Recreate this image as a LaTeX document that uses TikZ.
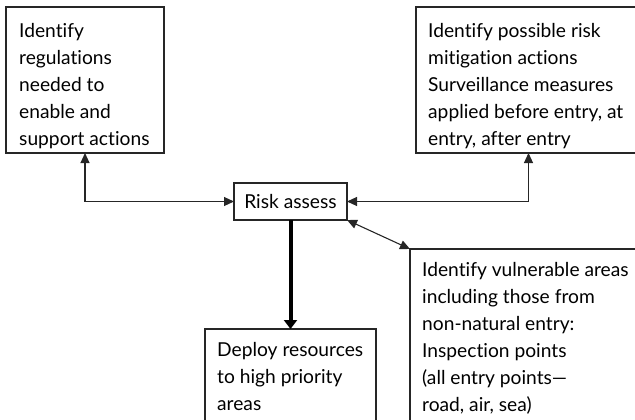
\documentclass[tikz,border=0pt]{standalone}
\usepackage{fontspec}
\setmainfont[Ligatures=CommonOff]{Lato}
\usetikzlibrary{arrows.meta}
\begin{document}
\begin{tikzpicture}[x=1pt,y=-1pt,
  box/.style={draw=black!85,line width=1.1pt,anchor=north west,inner sep=0pt,outer sep=0pt},
  txt/.style={anchor=base west,align=left,inner sep=0pt,font=\fontsize{19.2}{27}\selectfont},
  link/.style={draw=black!85,line width=1.1pt,{Triangle[length=10pt,width=9pt]}-{Triangle[length=10pt,width=9pt]}},
  bold link/.style={draw=black,line width=4pt,-{Triangle[length=9pt,width=13pt]}}]
\useasboundingbox (0,0) rectangle (635,420);
\clip (0,0) rectangle (635,420);
\node[box,minimum width=158pt,minimum height=146pt] (L) at (6,7) {};
\node[box,minimum width=225pt,minimum height=146pt] (TR) at (416,7) {};
\node[box,minimum width=113pt,minimum height=37pt] (R) at (234,183) {};
\node[box,minimum width=232pt,minimum height=180pt] (V) at (410,249) {};
\node[box,minimum width=171pt,minimum height=100pt] (D) at (205,329) {};
\node[txt] (Lt) at (19,145) {Identify\\regulations\\needed to\\enable and\\support actions};
\node[txt] (TRt) at (428,145) {Identify possible risk\\mitigation actions\\Surveillance measures\\applied before entry, at\\entry, after entry};
\node[txt,anchor=base] (Rt) at (290.5,208.5) {Risk assess};
\node[txt] (Vt) at (422,411) {Identify vulnerable areas\\including those from\\non-natural entry:\\Inspection points\\(all entry points---\\road, air, sea)};
\node[txt] (Dt) at (217,410.5) {Deploy resources\\to high priority\\areas};
\draw[link] (L.south) |- (R.west);
\draw[link] (TR.south) |- (R.east);
\draw[link] (R.south east) -- (V.north west);
\draw[bold link] (R.south) -- (D.north);
\end{tikzpicture}
\end{document}
